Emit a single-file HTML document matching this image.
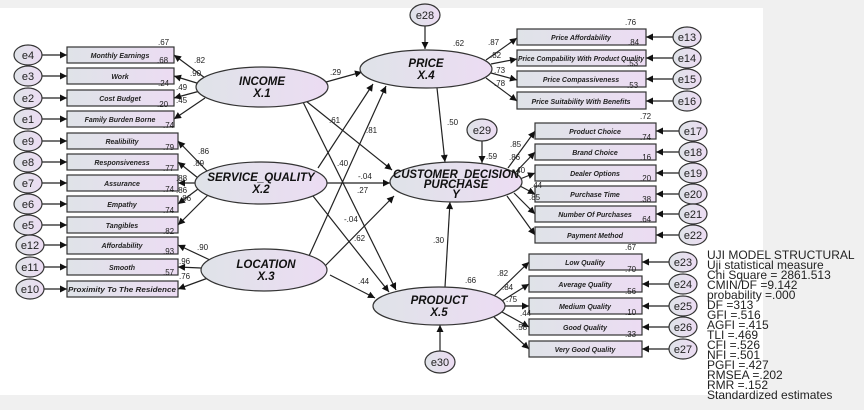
<!DOCTYPE html>
<html><head><meta charset="utf-8"><style>
html,body{margin:0;padding:0;background:#fff}
svg{display:block}
text{font-family:"Liberation Sans",sans-serif}
.bx{font-size:7px;font-style:italic;font-weight:bold;fill:#222}
.lv{font-size:11.5px;font-style:italic;font-weight:bold;fill:#111}
.n{font-size:8px;fill:#222}
.e{font-size:11px;fill:#222}
.lg{font-size:12px;fill:#222}
</style></head><body>
<svg width="864" height="410" viewBox="0 0 864 410" xmlns="http://www.w3.org/2000/svg">
<defs>
<linearGradient id="g" x1="0" x2="1" y1="0" y2="0"><stop offset="0" stop-color="#dfe3e8"/><stop offset="1" stop-color="#ecdcf3"/></linearGradient>
<marker id="a" viewBox="0 0 10 10" refX="10" refY="5" markerWidth="9" markerHeight="7" orient="auto" markerUnits="userSpaceOnUse"><path d="M0,0L10,5L0,10z" fill="#111"/></marker>
</defs>
<rect x="0" y="0" width="864" height="410" fill="#f0f0f0"/>
<rect x="0" y="8" width="763" height="387" fill="#fff"/>
<g stroke="#222" stroke-width="1.2" fill="none" marker-end="url(#a)">
<line x1="42" y1="55" x2="67" y2="55"/><line x1="42" y1="76" x2="67" y2="76"/><line x1="42" y1="98" x2="67" y2="98"/><line x1="42" y1="119" x2="67" y2="119"/>
<line x1="42" y1="141" x2="67" y2="141"/><line x1="42" y1="162" x2="67" y2="162"/><line x1="42" y1="183" x2="67" y2="183"/><line x1="42" y1="204" x2="67" y2="204"/><line x1="42" y1="225" x2="67" y2="225"/>
<line x1="42" y1="245" x2="67" y2="245"/><line x1="42" y1="267" x2="67" y2="267"/><line x1="42" y1="289" x2="67" y2="289"/>
<line x1="205" y1="78" x2="174" y2="55"/><line x1="200" y1="84" x2="174" y2="76"/><line x1="200" y1="91" x2="174" y2="98"/><line x1="205" y1="98" x2="174" y2="119"/>
<line x1="208" y1="172" x2="178" y2="141"/><line x1="198" y1="178" x2="178" y2="162"/><line x1="195" y1="183" x2="178" y2="183"/><line x1="198" y1="189" x2="178" y2="204"/><line x1="208" y1="195" x2="178" y2="225"/>
<line x1="210" y1="260" x2="178" y2="245"/><line x1="201" y1="268" x2="178" y2="267"/><line x1="208" y1="278" x2="178" y2="289"/>
<line x1="326" y1="82" x2="362" y2="72"/>
<line x1="306" y1="101" x2="392" y2="170"/>
<line x1="303" y1="102" x2="396" y2="290"/>
<line x1="318" y1="168" x2="373" y2="84"/>
<line x1="327" y1="183" x2="390" y2="183"/>
<line x1="313" y1="196" x2="389" y2="292"/>
<line x1="309" y1="256" x2="386" y2="86"/>
<line x1="325" y1="266" x2="394" y2="196"/>
<line x1="330" y1="275" x2="375" y2="298"/>
<line x1="437" y1="88" x2="445" y2="162"/>
<line x1="445" y1="287" x2="450" y2="202"/>
<line x1="425" y1="26" x2="425" y2="49"/>
<line x1="482" y1="141" x2="482" y2="163"/>
<line x1="440" y1="351" x2="440" y2="325"/>
<line x1="486" y1="60" x2="517" y2="38"/><line x1="491" y1="64" x2="517" y2="59"/><line x1="491" y1="73" x2="517" y2="80"/><line x1="486" y1="78" x2="517" y2="101"/>
<line x1="673" y1="37" x2="646" y2="37"/><line x1="673" y1="58" x2="646" y2="58"/><line x1="673" y1="79" x2="646" y2="79"/><line x1="673" y1="101" x2="646" y2="101"/>
<line x1="508" y1="168" x2="535" y2="131"/><line x1="515" y1="173" x2="535" y2="152"/><line x1="520" y1="179" x2="535" y2="173"/><line x1="520" y1="186" x2="535" y2="194"/><line x1="514" y1="193" x2="535" y2="214"/><line x1="507" y1="196" x2="535" y2="235"/>
<line x1="679" y1="131" x2="656" y2="131"/><line x1="679" y1="152" x2="656" y2="152"/><line x1="679" y1="173" x2="656" y2="173"/><line x1="679" y1="194" x2="656" y2="194"/><line x1="679" y1="214" x2="656" y2="214"/><line x1="679" y1="235" x2="656" y2="235"/>
<line x1="494" y1="296" x2="529" y2="262"/><line x1="502" y1="301" x2="529" y2="284"/><line x1="505" y1="306" x2="529" y2="306"/><line x1="502" y1="312" x2="529" y2="327"/><line x1="494" y1="317" x2="529" y2="349"/>
<line x1="669" y1="262" x2="642" y2="262"/><line x1="669" y1="284" x2="642" y2="284"/><line x1="669" y1="306" x2="642" y2="306"/><line x1="669" y1="327" x2="642" y2="327"/><line x1="669" y1="349" x2="642" y2="349"/>
</g>
<g fill="url(#g)" stroke="#333" stroke-width="1.2">
<rect x="67" y="47" width="107" height="16"/><rect x="67" y="68" width="107" height="16"/><rect x="67" y="90" width="107" height="16"/><rect x="67" y="111" width="107" height="16"/>
<rect x="67" y="133" width="111" height="16"/><rect x="67" y="154" width="111" height="16"/><rect x="67" y="175" width="111" height="16"/><rect x="67" y="196" width="111" height="16"/><rect x="67" y="217" width="111" height="16"/>
<rect x="67" y="237" width="111" height="17"/><rect x="67" y="259" width="111" height="16"/><rect x="67" y="281" width="111" height="16"/>
<rect x="517" y="29" width="129" height="16"/><rect x="517" y="50" width="129" height="16"/><rect x="517" y="71" width="129" height="16"/><rect x="517" y="92" width="129" height="17"/>
<rect x="535" y="123" width="121" height="16"/><rect x="535" y="144" width="121" height="16"/><rect x="535" y="165" width="121" height="16"/><rect x="535" y="186" width="121" height="16"/><rect x="535" y="206" width="121" height="16"/><rect x="535" y="227" width="121" height="16"/>
<rect x="529" y="254" width="113" height="16"/><rect x="529" y="276" width="113" height="16"/><rect x="529" y="298" width="113" height="16"/><rect x="529" y="319" width="113" height="16"/><rect x="529" y="341" width="113" height="16"/>
</g>
<g fill="url(#g)" stroke="#333" stroke-width="1.2">
<ellipse cx="262" cy="87" rx="66" ry="20"/><ellipse cx="261" cy="183" rx="66" ry="21"/><ellipse cx="264" cy="270" rx="63" ry="21"/>
<ellipse cx="426" cy="69" rx="66" ry="19"/><ellipse cx="456" cy="182" rx="66" ry="20"/><ellipse cx="439" cy="306" rx="66" ry="19"/>
<ellipse cx="28" cy="55" rx="14" ry="10"/><ellipse cx="28" cy="76" rx="14" ry="10"/><ellipse cx="28" cy="98" rx="14" ry="10"/><ellipse cx="28" cy="119" rx="14" ry="10"/>
<ellipse cx="28" cy="141" rx="14" ry="10"/><ellipse cx="28" cy="162" rx="14" ry="10"/><ellipse cx="28" cy="183" rx="14" ry="10"/><ellipse cx="28" cy="204" rx="14" ry="10"/><ellipse cx="28" cy="225" rx="14" ry="10"/>
<ellipse cx="30" cy="245" rx="14" ry="10"/><ellipse cx="30" cy="267" rx="14" ry="10"/><ellipse cx="30" cy="289" rx="14" ry="10"/>
<ellipse cx="687" cy="37" rx="14" ry="10"/><ellipse cx="687" cy="58" rx="14" ry="10"/><ellipse cx="687" cy="79" rx="14" ry="10"/><ellipse cx="687" cy="101" rx="14" ry="10"/>
<ellipse cx="693" cy="131" rx="14" ry="10"/><ellipse cx="693" cy="152" rx="14" ry="10"/><ellipse cx="693" cy="173" rx="14" ry="10"/><ellipse cx="693" cy="194" rx="14" ry="10"/><ellipse cx="693" cy="214" rx="14" ry="10"/><ellipse cx="693" cy="235" rx="14" ry="10"/>
<ellipse cx="683" cy="262" rx="14" ry="10"/><ellipse cx="683" cy="284" rx="14" ry="10"/><ellipse cx="683" cy="306" rx="14" ry="10"/><ellipse cx="683" cy="327" rx="14" ry="10"/><ellipse cx="683" cy="349" rx="14" ry="10"/>
<ellipse cx="425" cy="15" rx="15" ry="11"/><ellipse cx="482" cy="130" rx="15" ry="11"/><ellipse cx="440" cy="362" rx="15" ry="11"/>
</g>
<g class="e" text-anchor="middle">
<text x="28" y="59">e4</text><text x="28" y="80">e3</text><text x="28" y="102">e2</text><text x="28" y="123">e1</text>
<text x="28" y="145">e9</text><text x="28" y="166">e8</text><text x="28" y="187">e7</text><text x="28" y="208">e6</text><text x="28" y="229">e5</text>
<text x="30" y="249">e12</text><text x="30" y="271">e11</text><text x="30" y="293">e10</text>
<text x="687" y="41">e13</text><text x="687" y="62">e14</text><text x="687" y="83">e15</text><text x="687" y="105">e16</text>
<text x="693" y="135">e17</text><text x="693" y="156">e18</text><text x="693" y="177">e19</text><text x="693" y="198">e20</text><text x="693" y="218">e21</text><text x="693" y="239">e22</text>
<text x="683" y="266">e23</text><text x="683" y="288">e24</text><text x="683" y="310">e25</text><text x="683" y="331">e26</text><text x="683" y="353">e27</text>
<text x="425" y="19">e28</text><text x="482" y="134">e29</text><text x="440" y="366">e30</text>
</g>
<g class="bx" text-anchor="middle">
<text x="120" y="58">Monthly Earnings</text><text x="120" y="79">Work</text><text x="120" y="101">Cost Budget</text><text x="120" y="122">Family Burden Borne</text>
<text x="122" y="144">Realibility</text><text x="122" y="165">Responsiveness</text><text x="122" y="186">Assurance</text><text x="122" y="207">Empathy</text><text x="122" y="228">Tangibles</text>
<text x="122" y="248">Affordability</text><text x="122" y="270">Smooth</text><text x="122" y="292" textLength="108" lengthAdjust="spacingAndGlyphs">Proximity To The Residence</text>
<text x="581" y="40">Price Affordability</text><text x="581" y="61" textLength="126" lengthAdjust="spacingAndGlyphs">Price Compability With Product Quality</text><text x="581" y="82">Price Compassiveness</text><text x="581" y="104">Price Suitability With Benefits</text>
<text x="595" y="134">Product Choice</text><text x="595" y="155">Brand Choice</text><text x="595" y="176">Dealer Options</text><text x="595" y="197">Purchase Time</text><text x="595" y="217">Number Of Purchases</text><text x="595" y="238">Payment Method</text>
<text x="585" y="265">Low Quality</text><text x="585" y="287">Average Quality</text><text x="585" y="309">Medium Quality</text><text x="585" y="330">Good Quality</text><text x="585" y="352">Very Good Quality</text>
</g>
<g class="lv" text-anchor="middle">
<text x="262" y="85">INCOME</text><text x="262" y="97">X.1</text>
<text x="261" y="181">SERVICE_QUALITY</text><text x="261" y="193">X.2</text>
<text x="266" y="268">LOCATION</text><text x="266" y="280">X.3</text>
<text x="426" y="67">PRICE</text><text x="426" y="79">X.4</text>
<text x="456" y="178" textLength="126" lengthAdjust="spacingAndGlyphs">CUSTOMER_DECISION</text><text x="456" y="188">PURCHASE</text><text x="456" y="198">Y</text>
<text x="439" y="304">PRODUCT</text><text x="439" y="316">X.5</text>
</g>
<g class="n">
<text x="158" y="45">.67</text><text x="157" y="63">.68</text><text x="158" y="86">.24</text><text x="157" y="107">.20</text><text x="163" y="128">.74</text>
<text x="163" y="150">.79</text><text x="163" y="171">.77</text><text x="163" y="192">.74</text><text x="163" y="213">.74</text><text x="163" y="234">.82</text>
<text x="163" y="254">.93</text><text x="163" y="275">.57</text>
<text x="194" y="63">.82</text><text x="190" y="76">.90</text><text x="176" y="90">.49</text><text x="176" y="103">.45</text>
<text x="198" y="154">.86</text><text x="193" y="166">.89</text><text x="176" y="181">.88</text><text x="176" y="193">.86</text><text x="180" y="201">.86</text>
<text x="197" y="250">.90</text><text x="179" y="264">.96</text><text x="179" y="279">.76</text>
<text x="330" y="75">.29</text><text x="329" y="123">.61</text><text x="366" y="133">.81</text><text x="337" y="166">.40</text>
<text x="358" y="179">-.04</text><text x="357" y="193">.27</text><text x="344" y="222">-.04</text><text x="354" y="241">.62</text><text x="358" y="284">.44</text>
<text x="447" y="125">.50</text><text x="433" y="243">.30</text><text x="453" y="46">.62</text><text x="486" y="159">.59</text><text x="465" y="283">.66</text>
<text x="488" y="45">.87</text><text x="490" y="58">.82</text><text x="494" y="73">.73</text><text x="494" y="86">.78</text>
<text x="625" y="25">.76</text><text x="628" y="45">.84</text><text x="627" y="66">.53</text><text x="627" y="88">.53</text>
<text x="640" y="119">.72</text><text x="640" y="140">.74</text><text x="640" y="160">.16</text><text x="640" y="181">.20</text><text x="640" y="202">.38</text><text x="640" y="222">.64</text><text x="625" y="250">.67</text>
<text x="510" y="147">.85</text><text x="509" y="160">.86</text><text x="514" y="173">.40</text><text x="531" y="188">.44</text><text x="529" y="200">.85</text>
<text x="625" y="272">.70</text><text x="625" y="294">.56</text><text x="625" y="315">.10</text><text x="625" y="337">.33</text>
<text x="497" y="276">.82</text><text x="502" y="290">.84</text><text x="506" y="302">.75</text><text x="520" y="316">.44</text><text x="516" y="330">.58</text>
</g>
<g class="lg">
<text x="707" y="259">UJI MODEL STRUCTURAL</text><text x="707" y="269">Uji statistical measure</text><text x="707" y="279">Chi Square = 2861.513</text><text x="707" y="289">CMIN/DF =9.142</text><text x="707" y="299">probability =.000</text><text x="707" y="309">DF =313</text><text x="707" y="319">GFI =.516</text><text x="707" y="329">AGFI =.415</text><text x="707" y="339">TLI =.469</text><text x="707" y="349">CFI =.526</text><text x="707" y="359">NFI =.501</text><text x="707" y="369">PGFI =.427</text><text x="707" y="379">RMSEA =.202</text><text x="707" y="389">RMR =.152</text><text x="707" y="399">Standardized estimates</text>
</g>
</svg>
</body></html>
